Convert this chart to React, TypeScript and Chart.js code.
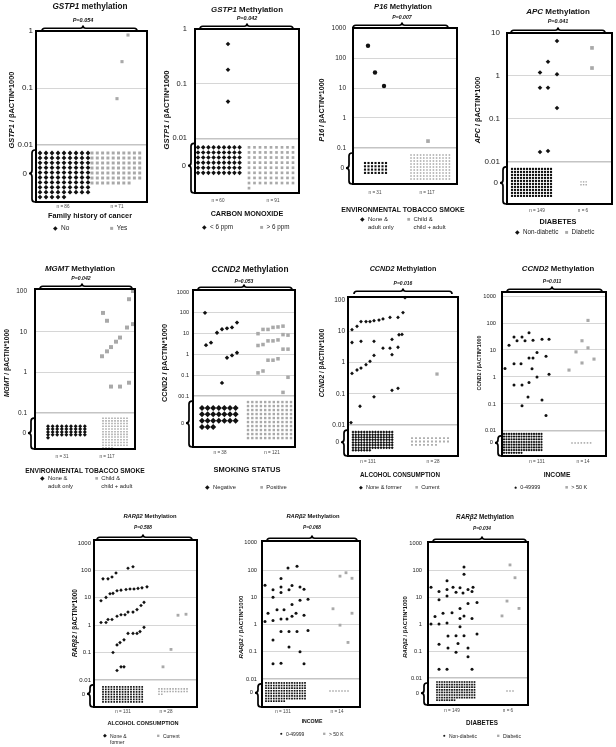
import React, { useEffect, useRef } from "react";
import { Chart, registerables } from "chart.js";
Chart.register(...registerables);

const W = 616;
const H = 747;
const FONT = '"Liberation Sans", Arial, Helvetica, sans-serif';
const BLACK = "#111111";
const GRAY = "#a9a9a9";

// ---------- Panel 1: GSTP1 / family history of cancer ----------
const p1TickValues = [1, 0.1, 0.01];
const p1TickLabels = ["1", "0.1", "0.01"];
const p1Legend = [["No"], ["Yes"]];
const p1N = [86, 71];
const p1Zeros = [86, 68];
const p1AVals: number[] = [];
const p1AX: number[] = [];
const p1BVals = [0.85, 0.29, 0.065];
const p1BX = [92, 86, 81];

// ---------- Panel 2: GSTP1 / carbon monoxide ----------
const p2TickValues = [1, 0.1, 0.01];
const p2TickLabels = ["1", "0.1", "0.01"];
const p2Legend = [["< 6 ppm"], ["> 6 ppm"]];
const p2N = [60, 91];
const p2Zeros = [54, 73];
const p2AVals = [0.53, 0.18, 0.047];
const p2AX = [33, 33, 33];
const p2BVals: number[] = [];
const p2BX: number[] = [];

// ---------- Panel 3: P16 / environmental tobacco smoke ----------
const p3TickValues = [1000, 100, 10, 1, 0.1];
const p3TickLabels = ["1000", "100", "10", "1", "0.1"];
const p3Legend = [["None &", "adult only"], ["Child &", "child + adult"]];
const p3N = [31, 117];
const p3Zeros = [28, 117];
const p3AVals = [256, 33, 11.6];
const p3AX = [15, 22, 31];
const p3BVals = [0.17];
const p3BX = [75];

// ---------- Panel 4: APC / diabetes ----------
const p4TickValues = [10, 1, 0.1, 0.01];
const p4TickLabels = ["10", "1", "0.1", "0.01"];
const p4Legend = [["Non-diabetic"], ["Diabetic"]];
const p4N = [149, 6];
const p4Zeros = [140, 6];
const p4AVals = [6.5, 2.15, 1.2, 1.1, 0.53, 0.53, 0.18, 0.017, 0.018];
const p4AX = [50, 41, 33, 50, 33, 41, 50, 33, 41];
const p4BVals = [4.5, 1.53];
const p4BX = [85, 85];

// ---------- Panel 5: MGMT / environmental tobacco smoke ----------
const p5TickValues = [100, 10, 1, 0.1];
const p5TickLabels = ["100", "10", "1", "0.1"];
const p5Legend = [["None &", "adult only"], ["Child &", "child + adult"]];
const p5N = [31, 117];
const p5Zeros = [37, 103];
const p5AVals: number[] = [];
const p5AX: number[] = [];
const p5BVals = [29, 18.6, 63, 100, 12.7, 15.4, 2.5, 3.3, 4.2, 5.7, 7.2, 0.45, 0.45, 0.56];
const p5BX = [68, 72, 94, 98, 92, 98, 67, 72, 76, 81, 85, 76, 85, 94];

// ---------- Panel 6: CCND2 / smoking status ----------
const p6TickValues = [1000, 100, 10, 1, 0.1, 0.01];
const p6TickLabels = ["1000", "100", "10", "1", "0.1", "00.1"];
const p6Legend = [["Negative"], ["Positive"]];
const p6N = [38, 121];
const p6Zeros = [24, 110];
const p6AVals = [100, 2.8, 3.7, 11, 16.4, 18, 20, 34, 0.69, 0.9, 1.2, 0.043];
const p6AX = [12, 13, 18, 24, 29, 34, 39, 44, 34, 39, 44, 29];
const p6BVals = [10, 16, 16, 20, 21, 23, 9, 8.5, 2.7, 3, 4.5, 4.5, 5, 1.8, 1.8, 0.13, 0.16, 0.53, 0.53, 0.62, 0.08, 0.015];
const p6BX = [65, 70, 75, 80, 85, 90, 90, 95, 65, 70, 75, 80, 85, 90, 95, 65, 70, 75, 80, 85, 95, 90];

// ---------- Panel 7: CCND2 / alcohol consumption ----------
const p7TickValues = [100, 10, 1, 0.1, 0.01];
const p7TickLabels = ["100", "10", "1", "0.1", "0.01"];
const p7Legend = [["None & former"], ["Current"]];
const p7N = [131, 28];
const p7Zeros = [112, 27];
const p7AVals = [11.3, 14.5, 20.5, 20.5, 20.5, 22, 23, 25, 28, 28, 40, 120, 4.4, 4.8, 4.8, 5.5, 7.8, 8, 2.9, 2.9, 3.1, 1.8, 1.7, 1.1, 0.86, 0.67, 0.58, 0.45, 0.13, 0.15, 0.08, 0.04, 0.012];
const p7AX = [4, 9, 13, 18, 22, 26, 31, 35, 42, 50, 55, 57, 4, 13, 26, 44, 51, 54, 35, 42, 50, 44, 26, 22, 18, 13, 9, 4, 44, 50, 26, 12, 3];
const p7BVals = [0.43];
const p7BX = [89];

// ---------- Panel 8: CCND2 / income ----------
const p8TickValues = [1000, 100, 10, 1, 0.1, 0.01];
const p8TickLabels = ["1000", "100", "10", "1", "0.1", "0.01"];
const p8Legend = [["0-49999"], ["> 50 K"]];
const p8N = [131, 14];
const p8Zeros = [120, 7];
const p8AVals = [2.05, 15, 30, 22, 30, 22, 44, 23, 25, 25, 8, 5, 5, 5.8, 3.1, 3.1, 2, 1.0, 1.25, 0.5, 0.5, 0.63, 0.18, 0.14, 0.085, 0.037];
const p8AX = [3, 7, 12, 15, 20, 23, 27, 31, 40, 47, 35, 27, 31, 44, 12, 19, 30, 35, 47, 12, 20, 27, 26, 40, 20, 44];
const p8BVals = [1.8, 8.5, 3.3, 22, 125, 12, 4.6];
const p8BX = [67, 74, 80, 80, 86, 86, 92];

// ---------- Panel 9: RARb2 / alcohol consumption ----------
const p9TickValues = [1000, 100, 10, 1, 0.1, 0.01];
const p9TickLabels = ["1000", "100", "10", "1", "0.1", "0.01"];
const p9Legend = [["None &", "former"], ["Current"]];
const p9N = [131, 28];
const p9Zeros = [105, 24];
const p9AVals = [49, 49, 57, 80, 120, 135, 7.8, 10.3, 14, 14.5, 18, 19, 20, 21, 21, 22, 23, 25, 1.25, 1.25, 1.6, 1.6, 2.1, 2.4, 2.4, 3, 3, 3.7, 5.2, 6.8, 0.1, 0.19, 0.23, 0.29, 0.5, 0.5, 0.5, 0.58, 0.83, 0.022, 0.03, 0.03];
const p9AX = [9, 14, 18, 22, 34, 39, 7, 12, 16, 19, 23, 27, 32, 36, 40, 44, 48, 53, 7, 12, 14, 18, 23, 27, 31, 34, 39, 43, 47, 50, 19, 23, 26, 30, 34, 39, 43, 46, 50, 23, 27, 30];
const p9BVals = [0.03, 0.13, 2.3, 2.5];
const p9BX = [69, 77, 84, 92];

// ---------- Panel 10: RARb2 / income ----------
const p10TickValues = [1000, 100, 10, 1, 0.1, 0.01];
const p10TickLabels = ["1000", "100", "10", "1", "0.1", "0.01"];
const p10Legend = [["0-49999"], ["> 50 K"]];
const p10N = [131, 14];
const p10Zeros = [120, 7];
const p10AVals = [28, 1.3, 2.6, 19, 10, 1.4, 0.27, 0.036, 3.5, 49, 24, 15, 1.6, 0.55, 0.038, 3.5, 1.6, 120, 19, 0.55, 0.15, 27, 5.4, 2.0, 2.6, 140, 0.55, 24, 7.8, 0.1, 20, 2.2, 0.036, 8.5, 0.6];
const p10AX = [3, 3, 6, 11, 11, 11, 11, 11, 15, 19, 19, 19, 19, 19, 19, 22, 25, 26, 27, 27, 27, 30, 30, 30, 34, 35, 35, 38, 38, 38, 42, 42, 42, 46, 46];
const p10BVals = [3.8, 60, 0.95, 80, 0.22, 50, 2.6];
const p10BX = [71, 78, 78, 84, 86, 90, 90];

// ---------- Panel 11: RARb2 / diabetes ----------
const p11TickValues = [1000, 100, 10, 1, 0.1, 0.01];
const p11TickLabels = ["1000", "100", "10", "1", "0.1", "0.01"];
const p11Legend = [["Non-diabetic"], ["Diabetic"]];
const p11N = [149, 6];
const p11Zeros = [120, 3];
const p11AVals = [23, 1, 1.9, 16, 8, 1, 0.18, 0.021, 2.5, 40, 19, 11, 1.1, 0.36, 0.13, 0.021, 2.6, 23, 15, 0.37, 0.09, 0.19, 3.8, 1.6, 0.8, 22, 14, 130, 70, 2, 0.37, 5.8, 0.13, 19, 0.062, 16, 1.6, 0.021, 23, 6.3, 0.43];
const p11AX = [3, 3, 7, 11, 11, 11, 11, 11, 15, 19, 19, 19, 19, 20, 20, 19, 24, 25, 28, 28, 28, 30, 32, 32, 32, 32, 35, 36, 36, 36, 36, 40, 40, 40, 40, 44, 44, 44, 45, 49, 49];
const p11BVals = [2.0, 7.1, 155, 52, 3.8];
const p11BX = [74, 79, 82, 87, 91];

// ---------- texts ----------
const titleGenes = ["GSTP1", "GSTP1", "P16", "APC", "MGMT", "CCND2", "CCND2", "CCND2", "RARβ2", "RARβ2", "RARβ2"];
const titleRest = [" methylation", " Methylation", " Methylation", " Methylation", " Methylation", " Methylation", " Methylation", " Methylation", " Methylation", " Methylation", " Methylation"];
const pValues = ["P=0.054", "P=0.042", "P=0.007", "P=0.041", "P=0.042", "P=0.053", "P=0.016", "P=0.011", "P=0.588", "P=0.068", "P=0.034"];
const yItalic = [true, true, true, true, true, false, true, false, true, true, true];
const xTitles = ["Family history of cancer", "CARBON MONOXIDE", "ENVIRONMENTAL TOBACCO SMOKE", "DIABETES", "ENVIRONMENTAL TOBACCO SMOKE", "SMOKING STATUS", "ALCOHOL CONSUMPTION", "INCOME", "ALCOHOL CONSUMPTION", "INCOME", "DIABETES"];

// ---------- layout (positions, sizes, styles only) ----------
type G = { shape: string; r: number; zshape: string; zr: number; zx0: number; zdx: number; zcols: number; zy0: number; zdy: number };
type L = {
  box: number[]; top: number; bot: number; zero: number; tickFont: number; tickPad: number;
  title: number[]; p: number[]; pFont: number; yTitle: number[]; nY: number; nX: number[];
  xTitle: number[]; legY: number; legX: number[]; legFont: number; brace: number[]; braceY: number;
  mark: string; a: G; b: G;
};
const g = (shape: string, r: number, zshape: string, zr: number, zx0: number, zdx: number, zcols: number, zy0: number, zdy: number): G =>
  ({ shape, r, zshape, zr, zx0, zdx, zcols, zy0, zdy });

const layouts: L[] = [
  { box: [36, 31, 147, 202], top: 0, bot: -3, zero: -2.5, tickFont: 8, tickPad: 3, title: [90, 7, 8.2], p: [83, 21], pFont: 5.5,
    yTitle: [12, 110, 7.4], nY: 207, nX: [63, 117], xTitle: [90, 216, 7.3], legY: 228, legX: [53, 110], legFont: 6.5,
    brace: [42, 137, 83], braceY: 31, mark: "◆",
    a: g("rectRot", 2.3, "rectRot", 2.4, 4, 6, 9, 8, 4.9), b: g("rect", 2.2, "rect", 2.1, 56, 5.3, 10, 8, 5) },
  { box: [195, 29, 299, 193], top: 0, bot: -3, zero: -2.5, tickFont: 7.5, tickPad: 8, title: [247, 10, 7.9], p: [247, 19], pFont: 5.5,
    yTitle: [167, 110, 7.6], nY: 201, nX: [218, 273], xTitle: [247, 214, 7.2], legY: 227, legX: [202, 260], legFont: 6.3,
    brace: [200, 293, 247], braceY: 29, mark: "◆",
    a: g("rectRot", 2.3, "rectRot", 2.3, 3, 5.2, 9, 9, 5.1), b: g("rect", 2, "rect", 1.9, 54, 5.5, 9, 9, 5.1) },
  { box: [353, 28, 457, 184], top: 3, bot: -2.2, zero: -1.67, tickFont: 6.5, tickPad: 7, title: [403, 7, 7.6], p: [402, 18], pFont: 5.2,
    yTitle: [323, 110, 7.1], nY: 193, nX: [375, 427], xTitle: [403, 210, 6.9], legY: 220, legX: [360, 407], legFont: 6,
    brace: [353, 448, 402], braceY: 28, mark: "◆",
    a: g("circle", 2.2, "rect", 1.5, 12, 3.5, 7, 15, 3.3), b: g("rect", 2.6, "rect", 1.1, 58, 3.2, 13, 7, 3) },
  { box: [507, 33, 612, 204], top: 1, bot: -2.98, zero: -2.49, tickFont: 8, tickPad: 7, title: [558, 12, 8], p: [558, 22], pFont: 5.5,
    yTitle: [478, 110, 7.2], nY: 211, nX: [537, 583], xTitle: [558, 222, 7.3], legY: 232, legX: [515, 565], legFont: 6.3,
    brace: [511, 605, 558], braceY: 33, mark: "◆",
    a: g("rectRot", 2.3, "rect", 1.5, 5, 3, 14, 7, 3), b: g("rect", 2.6, "rect", 1, 74, 2.6, 3, 20, 2.8) },
  { box: [35, 289, 135, 449], top: 2.05, bot: -1.88, zero: -1.49, tickFont: 6.5, tickPad: 8, title: [80, 269, 7.9], p: [81, 279], pFont: 5.2,
    yTitle: [7, 363, 6.7], nY: 457, nX: [62, 107], xTitle: [85, 471, 6.7], legY: 479, legX: [40, 95], legFont: 5.8,
    brace: [40, 132, 82], braceY: 289, mark: "◆",
    a: g("rectRot", 2, "rectRot", 2, 13, 4.6, 9, 13, 2.9), b: g("rect", 2.8, "rect", 1.1, 68, 3, 9, 5, 2.7) },
  { box: [193, 290, 295, 447], top: 3.1, bot: -4.45, zero: -3.3, tickFont: 5.5, tickPad: 4, title: [250, 269, 8.3], p: [244, 281], pFont: 5,
    yTitle: [165, 363, 7.4], nY: 453, nX: [220, 272], xTitle: [247, 470, 7.5], legY: 488, legX: [205, 260], legFont: 5.8,
    brace: [198, 292, 244], braceY: 290, mark: "◆",
    a: g("rectRot", 2.2, "rectRot", 3, 9, 5.6, 7, 12, 6.3), b: g("rect", 2.5, "rect", 1.7, 55, 4.3, 11, 6, 4) },
  { box: [348, 297, 458, 456], top: 2.1, bot: -2.99, zero: -2.55, tickFont: 6.5, tickPad: 3, title: [403, 269, 7.2], p: [403, 283], pFont: 5,
    yTitle: [322, 363, 6.5], nY: 462, nX: [368, 433], xTitle: [400, 475, 6.3], legY: 488, legX: [359, 415], legFont: 5.5,
    brace: [354, 452, 403], braceY: 294, mark: "◆",
    a: g("rectRot", 1.9, "rectRot", 1.5, 5, 2.8, 15, 7, 2.6), b: g("rect", 2.3, "rect", 1.3, 64, 4, 10, 13, 3.4) },
  { box: [502, 292, 606, 456], top: 3.15, bot: -2.93, zero: -2.44, tickFont: 5.7, tickPad: 6, title: [558, 269, 7.8], p: [552, 281], pFont: 5,
    yTitle: [480, 363, 5.2], nY: 462, nX: [537, 583], xTitle: [557, 475, 6.7], legY: 488, legX: [514, 565], legFont: 5.5,
    brace: [507, 602, 552], braceY: 292, mark: "●",
    a: g("circle", 1.5, "circle", 1.1, 2, 2.5, 16, 3, 2.7), b: g("rect", 2.2, "rect", 1.1, 70, 3.1, 8, 12, 3) },
  { box: [94, 540, 197, 707], top: 3.11, bot: -2.99, zero: -2.51, tickFont: 6, tickPad: 3, title: [150, 517, 5.8], p: [143, 528], pFont: 4.8,
    yTitle: [75, 623, 6.5], nY: 712, nX: [123, 166], xTitle: [143, 724, 5.6], legY: 736, legX: [103, 157], legFont: 5,
    brace: [97, 192, 143], braceY: 540, mark: "◆",
    a: g("rectRot", 1.8, "rect", 1.2, 9, 2.8, 15, 7, 2.5), b: g("rect", 2, "rect", 1.1, 65, 2.8, 11, 9, 2.7) },
  { box: [262, 541, 360, 707], top: 3.07, bot: -3.03, zero: -2.51, tickFont: 5.7, tickPad: 5, title: [313, 517, 5.8], p: [312, 528], pFont: 4.8,
    yTitle: [241, 627, 6], nY: 712, nX: [283, 337], xTitle: [312, 722, 5.2], legY: 734, legX: [280, 323], legFont: 5,
    brace: [267, 357, 312], braceY: 541, mark: "●",
    a: g("circle", 1.5, "rect", 1.2, 4, 2.6, 16, 4, 2.6), b: g("rect", 2, "rect", 1.1, 68, 3, 7, 12, 3) },
  { box: [428, 542, 528, 705], top: 3.04, bot: -3, zero: -2.56, tickFont: 5.7, tickPad: 6, title: [485, 517, 6.3], p: [482, 529], pFont: 4.8,
    yTitle: [406, 627, 5.9], nY: 711, nX: [452, 508], xTitle: [482, 723, 6.3], legY: 736, legX: [443, 497], legFont: 5,
    brace: [433, 526, 482], braceY: 542, mark: "●",
    a: g("circle", 1.5, "rect", 1.2, 9, 2.5, 16, 4, 2.6), b: g("rect", 2, "rect", 1.1, 79, 3, 3, 13, 3) },
];

const panelData = [
  { ticks: p1TickValues, labels: p1TickLabels, legend: p1Legend, n: p1N, zeros: p1Zeros, aV: p1AVals, aX: p1AX, bV: p1BVals, bX: p1BX },
  { ticks: p2TickValues, labels: p2TickLabels, legend: p2Legend, n: p2N, zeros: p2Zeros, aV: p2AVals, aX: p2AX, bV: p2BVals, bX: p2BX },
  { ticks: p3TickValues, labels: p3TickLabels, legend: p3Legend, n: p3N, zeros: p3Zeros, aV: p3AVals, aX: p3AX, bV: p3BVals, bX: p3BX },
  { ticks: p4TickValues, labels: p4TickLabels, legend: p4Legend, n: p4N, zeros: p4Zeros, aV: p4AVals, aX: p4AX, bV: p4BVals, bX: p4BX },
  { ticks: p5TickValues, labels: p5TickLabels, legend: p5Legend, n: p5N, zeros: p5Zeros, aV: p5AVals, aX: p5AX, bV: p5BVals, bX: p5BX },
  { ticks: p6TickValues, labels: p6TickLabels, legend: p6Legend, n: p6N, zeros: p6Zeros, aV: p6AVals, aX: p6AX, bV: p6BVals, bX: p6BX },
  { ticks: p7TickValues, labels: p7TickLabels, legend: p7Legend, n: p7N, zeros: p7Zeros, aV: p7AVals, aX: p7AX, bV: p7BVals, bX: p7BX },
  { ticks: p8TickValues, labels: p8TickLabels, legend: p8Legend, n: p8N, zeros: p8Zeros, aV: p8AVals, aX: p8AX, bV: p8BVals, bX: p8BX },
  { ticks: p9TickValues, labels: p9TickLabels, legend: p9Legend, n: p9N, zeros: p9Zeros, aV: p9AVals, aX: p9AX, bV: p9BVals, bX: p9BX },
  { ticks: p10TickValues, labels: p10TickLabels, legend: p10Legend, n: p10N, zeros: p10Zeros, aV: p10AVals, aX: p10AX, bV: p10BVals, bX: p10BX },
  { ticks: p11TickValues, labels: p11TickLabels, legend: p11Legend, n: p11N, zeros: p11Zeros, aV: p11AVals, aX: p11AX, bV: p11BVals, bX: p11BX },
];

function hBrace(ctx: CanvasRenderingContext2D, x1: number, x2: number, xm: number, yB: number, h: number) {
  const r = h / 2;
  ctx.beginPath();
  ctx.moveTo(x1, yB);
  ctx.quadraticCurveTo(x1, yB - r, x1 + r, yB - r);
  ctx.lineTo(xm - r, yB - r);
  ctx.quadraticCurveTo(xm, yB - r, xm, yB - h);
  ctx.quadraticCurveTo(xm, yB - r, xm + r, yB - r);
  ctx.lineTo(x2 - r, yB - r);
  ctx.quadraticCurveTo(x2, yB - r, x2, yB);
  ctx.stroke();
}

function vBrace(ctx: CanvasRenderingContext2D, xR: number, y1: number, y2: number, ym: number, w: number) {
  const r = w / 2;
  ctx.beginPath();
  ctx.moveTo(xR, y1);
  ctx.quadraticCurveTo(xR - r, y1, xR - r, y1 + r);
  ctx.lineTo(xR - r, ym - r);
  ctx.quadraticCurveTo(xR - r, ym, xR - w, ym);
  ctx.quadraticCurveTo(xR - r, ym, xR - r, ym + r);
  ctx.lineTo(xR - r, y2 - r);
  ctx.quadraticCurveTo(xR - r, y2, xR, y2);
  ctx.stroke();
}

function buildChart(canvas: HTMLCanvasElement, idx: number) {
  const Lo = layouts[idx];
  const D = panelData[idx];
  const [bl, bt, br, bb] = Lo.box;
  const decPx = (bb - bt) / (Lo.top - Lo.bot);
  const exps = D.ticks.map((v) => Math.log10(v));
  const minExp = Math.min(...exps);
  const lowest = minExp;
  const zeroPts = (count: number, s: G) =>
    Array.from({ length: count }, (_, i) => ({
      x: s.zx0 + (i % s.zcols) * s.zdx,
      y: minExp - (s.zy0 + Math.floor(i / s.zcols) * s.zdy) / decPx,
    }));
  const pts = (vals: number[], xs: number[]) => vals.map((v, i) => ({ x: xs[i], y: Math.log10(v) }));
  const ds = (data: any[], style: string, r: number, color: string) => ({
    data, pointStyle: style, pointRadius: r, pointHoverRadius: r, backgroundColor: color,
    borderColor: color, borderWidth: 0, showLine: false, clip: false as any,
  });

  const deco = {
    id: "deco" + idx,
    afterDraw(chart: any) {
      const ctx = chart.ctx as CanvasRenderingContext2D;
      const y = chart.scales.y;
      const a = chart.chartArea;
      ctx.save();
      ctx.strokeStyle = "#000";
      ctx.lineWidth = 2;
      ctx.strokeRect(a.left, a.top, a.right - a.left, a.bottom - a.top);
      ctx.lineWidth = 1.7;
      hBrace(ctx, Lo.brace[0], Lo.brace[1], Lo.brace[2], Lo.braceY, 5.5);
      const yz = y.getPixelForValue(Lo.zero);
      const yl = y.getPixelForValue(lowest) + 5;
      vBrace(ctx, a.left - 1, yl, a.bottom, yz, 6);
      ctx.fillStyle = "#222";
      ctx.font = `${Lo.tickFont}px ${FONT}`;
      ctx.textAlign = "right";
      ctx.textBaseline = "middle";
      ctx.fillText("0", a.left - 9, yz);
      ctx.restore();
    },
  };

  return new Chart(canvas, {
    type: "scatter",
    data: {
      datasets: [
        ds(zeroPts(D.zeros[0], Lo.a), Lo.a.zshape, Lo.a.zr, BLACK),
        ds(zeroPts(D.zeros[1], Lo.b), Lo.b.zshape, Lo.b.zr, GRAY),
        ds(pts(D.aV, D.aX), Lo.a.shape, Lo.a.r, BLACK),
        ds(pts(D.bV, D.bX), Lo.b.shape, Lo.b.r, GRAY),
      ] as any,
    },
    options: {
      animation: false,
      responsive: false,
      maintainAspectRatio: false,
      devicePixelRatio: 1,
      events: [],
      layout: { padding: { left: bl - 30, top: bt, right: W - br, bottom: H - bb } },
      plugins: { legend: { display: false }, tooltip: { enabled: false }, title: { display: false } },
      scales: {
        x: { type: "linear", display: false, min: 0, max: br - bl },
        y: {
          type: "linear",
          min: Lo.bot,
          max: Lo.top,
          afterBuildTicks: (s: any) => { s.ticks = exps.map((v) => ({ value: v })); },
          afterFit: (s: any) => { s.width = 30; },
          border: { display: false },
          grid: {
            drawTicks: false,
            color: (c: any) => (Lo.top - c.tick.value < 0.12 ? "rgba(0,0,0,0)" : c.tick.value === lowest ? "#c4c4c4" : "#d6d6d6"),
            lineWidth: (c: any) => (c.tick.value === lowest ? 1.6 : 1),
          },
          ticks: {
            autoSkip: false,
            padding: Lo.tickPad,
            color: "#222",
            font: { family: FONT, size: Lo.tickFont },
            callback: (v: any) => {
              const i = exps.findIndex((e) => Math.abs(e - Number(v)) < 1e-6);
              return i >= 0 ? D.labels[i] : "";
            },
          },
        },
      },
    },
    plugins: [deco],
  } as any);
}

function PanelCanvas({ idx }: { idx: number }) {
  const ref = useRef<HTMLCanvasElement>(null);
  useEffect(() => {
    if (!ref.current) return;
    const c = buildChart(ref.current, idx);
    return () => c.destroy();
  }, [idx]);
  return <canvas ref={ref} width={W} height={H} style={{ position: "absolute", left: 0, top: 0, width: W, height: H }} />;
}

const abs = (x: number, y: number, extra: React.CSSProperties = {}): React.CSSProperties => ({
  position: "absolute", left: x, top: y, transform: "translate(-50%,-50%)", whiteSpace: "nowrap",
  fontFamily: FONT, color: "#111", lineHeight: 1, ...extra,
});

function PanelTexts({ idx }: { idx: number }) {
  const Lo = layouts[idx];
  const D = panelData[idx];
  const lh = Lo.legFont * 1.3;
  const legendItem = (k: number) => (
    <div key={"lg" + k} style={{ position: "absolute", left: Lo.legX[k], top: Lo.legY - lh / 2, display: "flex", fontFamily: FONT, fontSize: Lo.legFont, lineHeight: `${lh}px`, color: "#222", whiteSpace: "nowrap" }}>
      <span style={{ color: k === 0 ? BLACK : GRAY, marginRight: 3, fontSize: Lo.legFont * 0.95 }}>{k === 0 ? Lo.mark : "■"}</span>
      <span>{D.legend[k].map((t, j) => (<React.Fragment key={j}>{j > 0 && <br />}{t}</React.Fragment>))}</span>
    </div>
  );
  return (
    <>
      <div style={abs(Lo.title[0], Lo.title[1], { fontSize: Lo.title[2], fontWeight: "bold" })}>
        <i>{titleGenes[idx]}</i>{titleRest[idx]}
      </div>
      <div style={abs(Lo.p[0], Lo.p[1], { fontSize: Lo.pFont, fontWeight: "bold", fontStyle: "italic" })}>{pValues[idx]}</div>
      <div style={abs(Lo.yTitle[0], Lo.yTitle[1], { fontSize: Lo.yTitle[2], fontWeight: "bold", transform: "translate(-50%,-50%) rotate(-90deg)" })}>
        {yItalic[idx] ? <i>{titleGenes[idx]}</i> : titleGenes[idx]} / βACTIN*1000
      </div>
      <div style={abs(Lo.nX[0], Lo.nY, { fontSize: 4.6, color: "#444" })}>{"n = " + D.n[0]}</div>
      <div style={abs(Lo.nX[1], Lo.nY, { fontSize: 4.6, color: "#444" })}>{"n = " + D.n[1]}</div>
      <div style={abs(Lo.xTitle[0], Lo.xTitle[1], { fontSize: Lo.xTitle[2], fontWeight: "bold" })}>{xTitles[idx]}</div>
      {legendItem(0)}
      {legendItem(1)}
    </>
  );
}

export default function App() {
  return (
    <div style={{ position: "absolute", left: 0, top: 0, width: W, height: H, background: "#fff", overflow: "hidden" }}>
      {layouts.map((_, i) => (<PanelCanvas key={"c" + i} idx={i} />))}
      {layouts.map((_, i) => (<PanelTexts key={"t" + i} idx={i} />))}
    </div>
  );
}
